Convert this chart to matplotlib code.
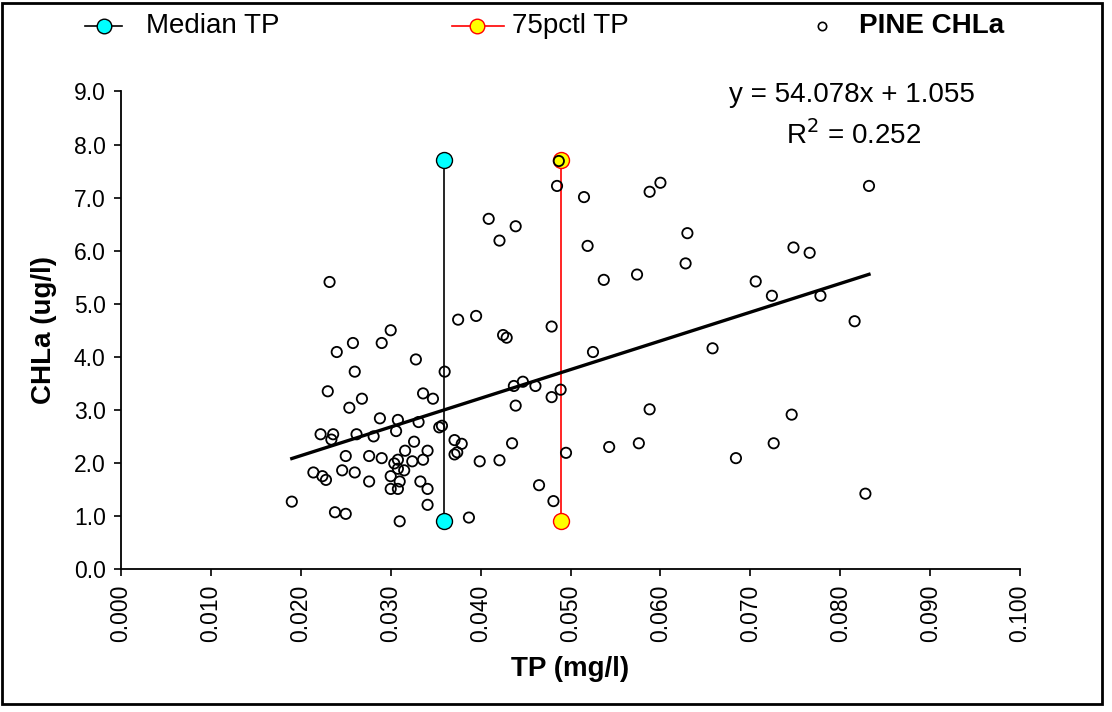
import numpy as np
import matplotlib
matplotlib.use('Agg')
import matplotlib.pyplot as plt
from matplotlib.lines import Line2D
from matplotlib.patches import Rectangle

plt.rcParams['font.family'] = ['Liberation Sans', 'DejaVu Sans']

# PINE CHLa vs TP samples
tp = [0.0232, 0.0375, 0.0395, 0.0300, 0.0258, 0.0290, 0.0240, 0.0328, 0.0260, 0.0360,
      0.0230, 0.0336, 0.0347, 0.0268, 0.0254, 0.0288, 0.0308, 0.0331, 0.0354, 0.0357,
      0.0306, 0.0222, 0.0236, 0.0234, 0.0262, 0.0281, 0.0326, 0.0371, 0.0379, 0.0250,
      0.0276, 0.0290, 0.0316, 0.0341, 0.0336, 0.0324, 0.0308, 0.0304, 0.0371, 0.0374,
      0.0399, 0.0214, 0.0224, 0.0228, 0.0246, 0.0260, 0.0308, 0.0315, 0.0300, 0.0310,
      0.0276, 0.0333, 0.0300, 0.0308, 0.0341, 0.0190, 0.0341, 0.0238, 0.0250, 0.0310,
      0.0387,
      0.0487, 0.0485, 0.0515, 0.0588, 0.0600, 0.0409, 0.0439, 0.0421, 0.0519, 0.0537,
      0.0574, 0.0479, 0.0425, 0.0429, 0.0525, 0.0437, 0.0447, 0.0461, 0.0489, 0.0479,
      0.0439, 0.0588, 0.0435, 0.0421, 0.0495, 0.0543, 0.0576, 0.0465, 0.0481,
      0.0832, 0.0630, 0.0628, 0.0748, 0.0766, 0.0706, 0.0724, 0.0778, 0.0816, 0.0658,
      0.0684, 0.0726, 0.0746, 0.0828]
chla = [5.41, 4.70, 4.77, 4.50, 4.26, 4.26, 4.09, 3.95, 3.72, 3.72,
        3.35, 3.31, 3.21, 3.21, 3.04, 2.84, 2.81, 2.77, 2.67, 2.70,
        2.60, 2.54, 2.54, 2.44, 2.54, 2.50, 2.40, 2.43, 2.36, 2.13,
        2.13, 2.09, 2.23, 2.23, 2.06, 2.03, 2.06, 1.99, 2.16, 2.20,
        2.03, 1.82, 1.75, 1.68, 1.86, 1.82, 1.89, 1.86, 1.75, 1.65,
        1.65, 1.65, 1.51, 1.51, 1.51, 1.27, 1.21, 1.07, 1.04, 0.90,
        0.97,
        7.69, 7.22, 7.01, 7.11, 7.28, 6.60, 6.46, 6.19, 6.09, 5.45,
        5.55, 4.57, 4.41, 4.36, 4.09, 3.45, 3.53, 3.45, 3.38, 3.24,
        3.08, 3.01, 2.37, 2.05, 2.19, 2.30, 2.37, 1.58, 1.28,
        7.22, 6.33, 5.76, 6.06, 5.96, 5.42, 5.15, 5.15, 4.67, 4.16,
        2.09, 2.37, 2.91, 1.42]

median_tp = [0.0359, 0.0359]
pctl75_tp = [0.0489, 0.0489]
ref_y = [0.9, 7.7]

slope = 54.078
intercept = 1.055
r2 = 0.252

fig = plt.figure(figsize=(11.12, 7.12), dpi=100)
ax = fig.add_axes([0.1088, 0.2008, 0.8085, 0.6707])

ax.plot(median_tp, ref_y, color='black', lw=1.2, marker='o', ms=11.5,
        mfc='#00ffff', mec='black', mew=1.0, zorder=2)
ax.plot(pctl75_tp, ref_y, color='red', lw=1.2, marker='o', ms=11.5,
        mfc='#ffff00', mec='red', mew=1.0, zorder=2)
ax.scatter(tp, chla, s=55, facecolors='none', edgecolors='black', linewidths=1.3, zorder=3)

xfit = np.array([min(tp), max(tp)])
ax.plot(xfit, slope * xfit + intercept, color='black', lw=2.4, zorder=4)

ax.set_xlim(0, 0.1)
ax.set_ylim(0, 9)
ax.set_xticks(np.arange(0, 0.1001, 0.01))
ax.set_yticks(np.arange(0, 9.01, 1.0))
ax.set_xticklabels([f'{v:.3f}' for v in np.arange(0, 0.1001, 0.01)], rotation=90)
ax.set_yticklabels([f'{v:.1f}' for v in np.arange(0, 9.01, 1.0)])
ax.tick_params(axis='both', direction='out', length=5, width=1.2, labelsize=16.5, pad=6)
for side in ['top', 'right']:
    ax.spines[side].set_visible(False)
for side in ['left', 'bottom']:
    ax.spines[side].set_linewidth(1.3)

ax.set_xlabel('TP (mg/l)', fontsize=20, fontweight='bold', labelpad=10)
ax.set_ylabel('CHLa (ug/l)', fontsize=20, fontweight='bold', labelpad=12)

fig.text(852 / 1112, 1 - 95 / 712, f'y = {slope:.3f}x + {intercept:.3f}',
         fontsize=20, ha='center', va='center')
fig.text(854 / 1112, 1 - 135 / 712, f'R$^2$ = {r2:.3f}',
         fontsize=20, ha='center', va='center')

# legend along the top
ly = 1 - 26 / 712
fig.add_artist(Line2D([85 / 1112, 122 / 1112], [ly, ly], color='black', lw=1.2,
                      transform=fig.transFigure))
fig.add_artist(Line2D([104 / 1112], [ly], marker='o', ms=10.5, mfc='#00ffff', mec='black',
                      mew=1.0, transform=fig.transFigure))
fig.text(146 / 1112, ly, 'Median TP', fontsize=20, va='center', ha='left')

fig.add_artist(Line2D([452 / 1112, 504 / 1112], [ly, ly], color='red', lw=1.2,
                      transform=fig.transFigure))
fig.add_artist(Line2D([477 / 1112], [ly], marker='o', ms=10.5, mfc='#ffff00', mec='red',
                      mew=1.0, transform=fig.transFigure))
fig.text(512 / 1112, ly, '75pctl TP', fontsize=20, va='center', ha='left')

fig.add_artist(Line2D([822 / 1112], [ly], marker='o', ms=6, mfc='none', mec='black',
                      mew=1.2, transform=fig.transFigure))
fig.text(859 / 1112, ly, 'PINE CHLa', fontsize=20, fontweight='bold', va='center', ha='left')

fig.add_artist(Rectangle((2 / 1112, 8 / 712), 1100 / 1112, 701 / 712, fill=False,
                         edgecolor='black', lw=2.0, transform=fig.transFigure))

fig.savefig('out.png', dpi=100)
